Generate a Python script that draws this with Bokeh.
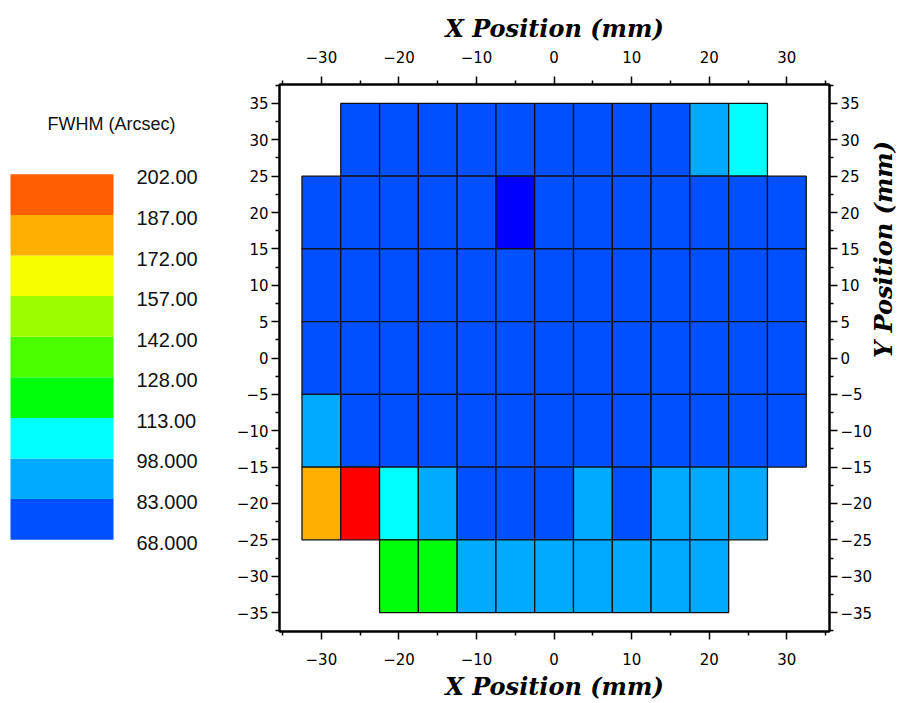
import math
from bokeh.plotting import figure
from bokeh.layouts import row
from bokeh.models import (Range1d, FixedTicker, LinearAxis, ColumnDataSource,
                          LinearColorMapper)
from bokeh.transform import transform
from bokeh.core.properties import value
from bokeh.embed import file_html
from bokeh.resources import INLINE

# ---------------- data ----------------
x_centers = [-30, -25, -20, -15, -10, -5, 0, 5, 10, 15, 20, 25, 30]
y_centers = [30, 20, 10, 0, -10, -20, -30]
cell_w = 5
cell_h = 10

# FWHM (arcsec) per detector cell, rows from top (y=30) to bottom (y=-30); None = no cell
fwhm_y30 = [None, 75, 74, 76, 75, 74, 75, 76, 75, 74, 90, 105, None]
fwhm_y20 = [75, 76, 75, 74, 75, 64, 75, 76, 75, 74, 75, 76, 75]
fwhm_y10 = [74, 75, 76, 75, 74, 75, 76, 75, 74, 75, 76, 75, 74]
fwhm_y0 = [75, 74, 75, 76, 75, 74, 75, 76, 75, 74, 75, 76, 75]
fwhm_ym10 = [90, 76, 75, 74, 75, 76, 75, 74, 75, 76, 75, 74, 75]
fwhm_ym20 = [180, 210, 105, 90, 78, 77, 78, 90, 78, 90, 91, 90, None]
fwhm_ym30 = [None, None, 120, 121, 92, 91, 92, 91, 92, 91, 92, None, None]
fwhm_rows = [fwhm_y30, fwhm_y20, fwhm_y10, fwhm_y0, fwhm_ym10, fwhm_ym20, fwhm_ym30]

cbar_bounds = [68.0, 82.89, 97.78, 112.67, 127.56, 142.44, 157.33, 172.22, 187.11, 202.0]
cbar_labels = ["68.000", "83.000", "98.000", "113.00", "128.00",
               "142.00", "157.00", "172.00", "187.00", "202.00"]
cbar_colors = ["#0050ff", "#00aaff", "#00ffff", "#00ff0a", "#4bff00",
               "#9bff00", "#f5ff00", "#ffaf00", "#ff5f00"]
below_color = "#0000ff"
above_color = "#ff0000"
cbar_title = "FWHM (Arcsec)"

x_ticks = [-30, -20, -10, 0, 10, 20, 30]
x_tick_labels = ["\u221230", "\u221220", "\u221210", "0", "10", "20", "30"]
x_minor = [-35, -25, -15, -5, 5, 15, 25, 35]
y_ticks = [-35, -30, -25, -20, -15, -10, -5, 0, 5, 10, 15, 20, 25, 30, 35]
y_tick_labels = ["\u221235", "\u221230", "\u221225", "\u221220", "\u221215", "\u221210", "\u22125",
                 "0", "5", "10", "15", "20", "25", "30", "35"]
y_minor = [-37.5, -32.5, -27.5, -22.5, -17.5, -12.5, -7.5, -2.5,
           2.5, 7.5, 12.5, 17.5, 22.5, 27.5, 32.5, 37.5]
x_title = "X Position (mm)"
y_title = "Y Position (mm)"

# ---------------- layout (pixels) ----------------
H = 703
CBW = 232
MAINW = 683
FR_TOP, FR_BOT = 84, 632          # frame top / bottom in page pixels
BAR_TOP, BAR_BOT = 174, 540       # colour bar extent in page pixels

# ---------------- cells ----------------
cx, cy, cv = [], [], []
for yc, vals in zip(y_centers, fwhm_rows):
    for xc, v in zip(x_centers, vals):
        if v is not None:
            cx.append(xc)
            cy.append(yc)
            cv.append(v)
src = ColumnDataSource(dict(x=cx, y=cy, v=cv))

mapper = LinearColorMapper(palette=cbar_colors, low=cbar_bounds[0], high=cbar_bounds[-1],
                           low_color=below_color, high_color=above_color)

p = figure(width=MAINW, height=H, x_range=Range1d(-35.4, 35.5), y_range=Range1d(-37.6, 37.6),
           output_backend="svg", toolbar_location=None,
           x_axis_location=None, y_axis_location=None,
           min_border_left=47, min_border_right=MAINW - 47 - 551,
           min_border_top=FR_TOP, min_border_bottom=H - FR_BOT)
p.grid.grid_line_color = None
p.outline_line_color = "black"
p.outline_line_width = 2

p.rect(x="x", y="y", width=cell_w, height=cell_h, source=src,
       fill_color=transform("v", mapper), line_color="#111111", line_width=1.3)


def style_axis(ax, standoff):
    ax.axis_line_width = 2
    ax.axis_line_color = "black"
    ax.major_tick_line_width = 1.5
    ax.minor_tick_line_width = 1.5
    ax.major_tick_in = 0
    ax.major_tick_out = 8
    ax.minor_tick_in = 0
    ax.minor_tick_out = 4
    ax.major_label_text_font = "DejaVu Sans"
    ax.major_label_text_font_size = "15px"
    ax.major_label_text_color = "black"
    ax.major_label_standoff = standoff
    ax.axis_label_text_font = "DejaVu Serif"
    ax.axis_label_text_font_style = "bold italic"
    ax.axis_label_text_font_size = "24px"
    ax.axis_label_text_color = "black"


xt = FixedTicker(ticks=x_ticks, minor_ticks=x_minor)
yt = FixedTicker(ticks=y_ticks, minor_ticks=y_minor)
xlab = {t: l for t, l in zip(x_ticks, x_tick_labels)}
ylab = {t: l for t, l in zip(y_ticks, y_tick_labels)}

ax_top = LinearAxis(ticker=xt, major_label_overrides=xlab, axis_label=x_title)
style_axis(ax_top, 14)
ax_top.axis_label_standoff = 5
p.add_layout(ax_top, "above")

ax_bot = LinearAxis(ticker=xt, major_label_overrides=xlab, axis_label=x_title)
style_axis(ax_bot, 13)
ax_bot.axis_label_standoff = 4
p.add_layout(ax_bot, "below")

ax_left = LinearAxis(ticker=yt, major_label_overrides=ylab)
style_axis(ax_left, 3)
p.add_layout(ax_left, "left")

ax_right = LinearAxis(ticker=yt, major_label_overrides=ylab, axis_label=y_title)
style_axis(ax_right, 3)
ax_right.axis_label_standoff = 8
ax_right.axis_label_orientation = math.pi / 2
ax_right.axis_label_text_baseline = "top"
p.add_layout(ax_right, "right")

# ---------------- colour bar (own figure, frame aligned with main frame) ----------------
scale = (BAR_BOT - BAR_TOP) / (cbar_bounds[-1] - cbar_bounds[0])
y0 = cbar_bounds[0] - (FR_BOT - BAR_BOT) / scale
y1 = cbar_bounds[-1] + (BAR_TOP - FR_TOP) / scale
cb = figure(width=CBW, height=H, x_range=Range1d(0, CBW), y_range=Range1d(y0, y1),
            output_backend="svg", toolbar_location=None,
            x_axis_location=None, y_axis_location=None,
            min_border_left=0, min_border_right=0,
            min_border_top=FR_TOP, min_border_bottom=H - FR_BOT)
cb.grid.grid_line_color = None
cb.outline_line_color = None

cb.quad(left=10, right=113, bottom=cbar_bounds[:-1], top=cbar_bounds[1:],
        fill_color=cbar_colors, line_color=None)
sans = value("Liberation Sans")
cb.text(x=[136] * len(cbar_bounds), y=cbar_bounds, text=cbar_labels,
        text_font=sans, text_font_size="20px", text_align="left",
        text_baseline="middle", y_offset=3, text_color="#111111")
cb.text(x=[111], y=[cbar_bounds[-1]], text=[cbar_title], y_offset=-50,
        text_font=sans, text_font_size="18px", text_align="center",
        text_baseline="middle", text_color="#111111")

layout = row(cb, p)
open("out.html", "w").write(file_html(layout, INLINE))
